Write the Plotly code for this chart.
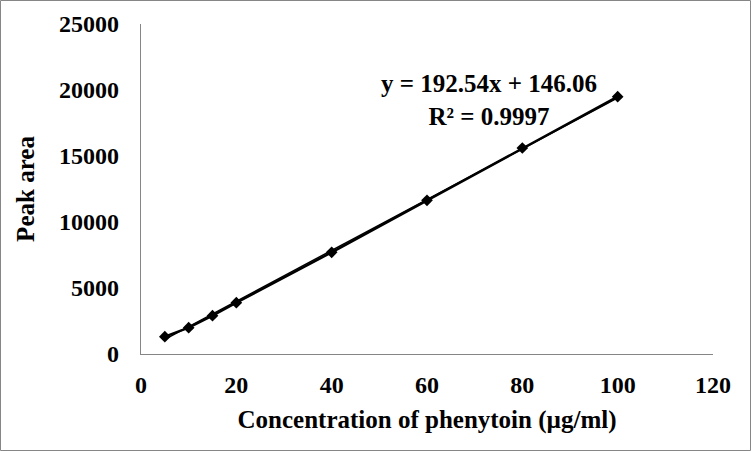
import plotly.graph_objects as go

concentration = [5, 10, 15, 20, 40, 60, 80, 100]
peak_area = [1313, 1995, 2904, 3890, 7705, 11644, 15606, 19492]
slope = 192.54
intercept = 146.06
r_squared = 0.9997
x_ticks = [0, 20, 40, 60, 80, 100, 120]
y_ticks = [0, 5000, 10000, 15000, 20000, 25000]
y_tick_labels = [str(v) for v in y_ticks]

font_family = "Liberation Serif"
fs = 25
tfs = 24
trend_x = [min(concentration), max(concentration)]
trend_y = [slope * v + intercept for v in trend_x]

fig = go.Figure()
fig.add_trace(go.Scatter(x=trend_x, y=trend_y, mode="lines",
                         line=dict(color="black", width=1.5), showlegend=False))
fig.add_trace(go.Scatter(x=concentration, y=peak_area, mode="lines+markers",
                         line=dict(color="black", width=2.5),
                         marker=dict(symbol="diamond", size=9, color="black"),
                         showlegend=False))

fig.add_annotation(x=73, y=19250, xref="x", yref="y",
                   text=f"y = {slope}x + {intercept}<br>R² = {r_squared}",
                   showarrow=False, align="center",
                   font=dict(family=font_family, size=fs, color="black", weight="bold"))

fig.add_shape(type="rect", xref="paper", yref="paper",
              x0=-140.5/572, x1=(750.5-141)/572, y0=(354-450.5)/330, y1=(354-0.5)/330,
              line=dict(color="#868686", width=1))

fig.update_layout(
    width=751, height=451,
    margin=dict(l=141, r=38, t=24, b=97),
    paper_bgcolor="white", plot_bgcolor="white",
    font=dict(family=font_family, color="black"),
    xaxis=dict(range=[0, 120], tickvals=x_ticks, showgrid=False, zeroline=False,
               showline=True, linecolor="#868686", linewidth=1.3, ticks="",
               ticklabelstandoff=9, automargin=False,
               tickfont=dict(family=font_family, size=tfs, color="black", weight="bold"),
               title=dict(text="Concentration of phenytoin (µg/ml)", standoff=13,
                          font=dict(family=font_family, size=fs, color="black", weight="bold"))),
    yaxis=dict(range=[0, 25000], tickvals=y_ticks, ticktext=y_tick_labels,
               showgrid=False, zeroline=False,
               showline=True, linecolor="#868686", linewidth=1.3, ticks="",
               ticklabelstandoff=16, automargin=False,
               tickfont=dict(family=font_family, size=tfs, color="black", weight="bold"),
               title=dict(text="Peak area", standoff=17,
                          font=dict(family=font_family, size=fs, color="black", weight="bold"))),
)

fig.write_html("out.html", config={"displayModeBar": False},
               post_script="document.body.style.margin='0';document.body.style.overflow='hidden';")
